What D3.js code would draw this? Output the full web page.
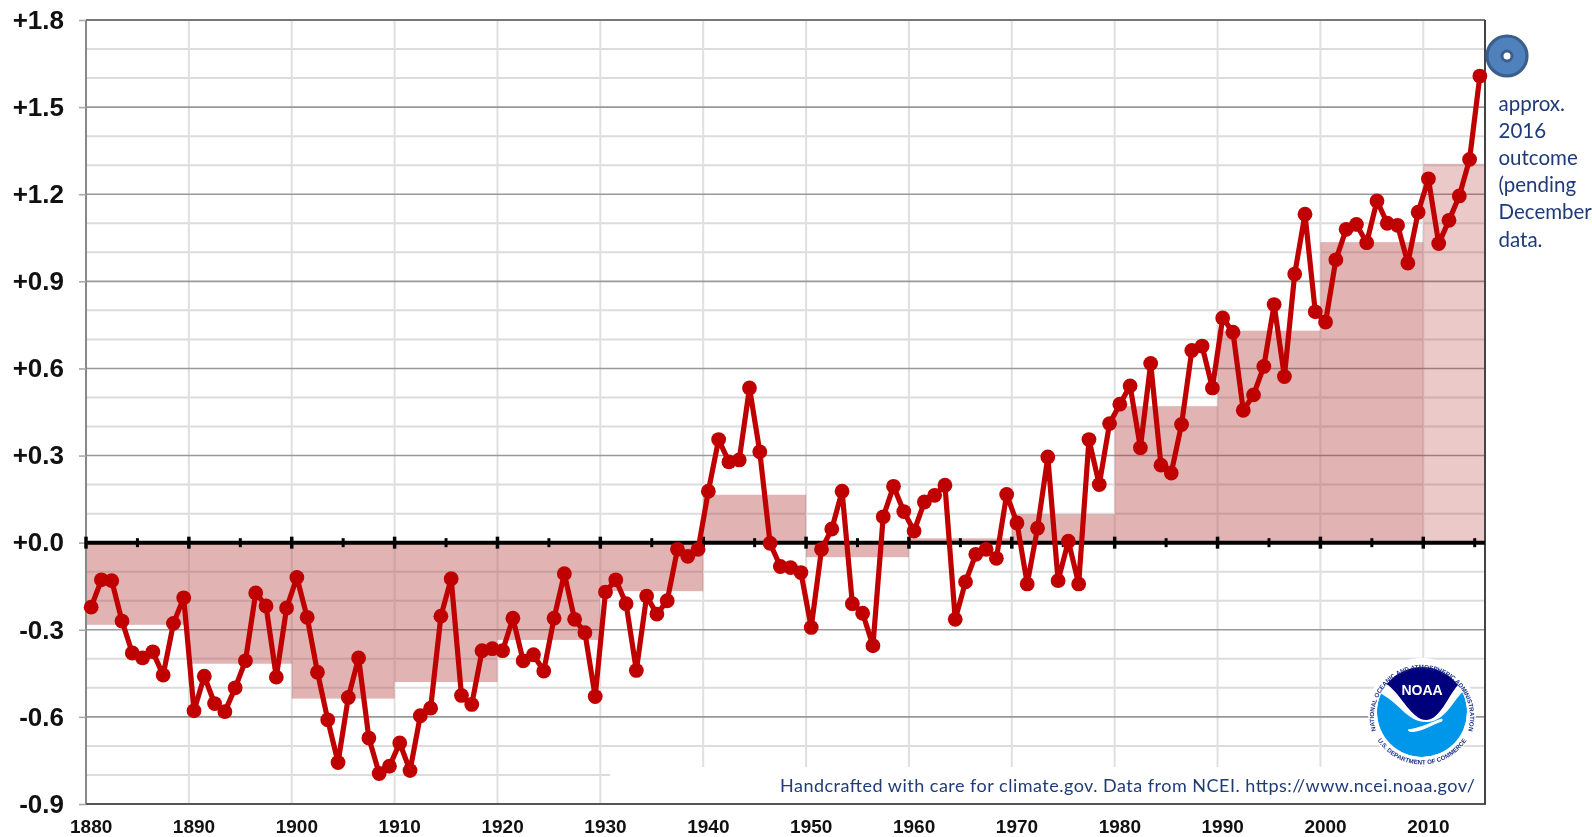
<!DOCTYPE html>
<html>
<head>
<meta charset="utf-8">
<script src="https://cdn.jsdelivr.net/npm/d3@7"></script>
<style>
  html, body { margin: 0; padding: 0; background: #fff; overflow: hidden; }
  svg { display: block; filter: blur(0.4px); }
  .ylab text { font: bold 26px "Liberation Sans", Arial, sans-serif; fill: #111; }
  .xlab text { font: bold 19px "Liberation Sans", Arial, sans-serif; fill: #111; }
  .note { font-family: Lato, sans-serif; fill: #1f3b77; }
</style>
</head>
<body>
<script>
var w = 1592;
var h = 837;

// yearly anomaly, 1880 onward (last point is the approx. 2016 outcome)
var firstYear = 1880;
var anomalies = [
  -0.222, -0.128, -0.131, -0.27, -0.38, -0.397, -0.376, -0.456, -0.278, -0.19,
  -0.579, -0.46, -0.554, -0.582, -0.50, -0.407, -0.173, -0.218, -0.463, -0.225,
  -0.12, -0.257, -0.446, -0.61, -0.757, -0.533, -0.397, -0.673, -0.795, -0.77,
  -0.69, -0.785, -0.596, -0.57, -0.253, -0.124, -0.526, -0.557, -0.372, -0.365,
  -0.372, -0.26, -0.407, -0.386, -0.442, -0.26, -0.107, -0.264, -0.31, -0.53,
  -0.17, -0.128, -0.21, -0.44, -0.184, -0.246, -0.20, -0.023, -0.047, -0.023,
   0.177, 0.355, 0.278, 0.285, 0.533, 0.313, -0.002, -0.082, -0.086, -0.103,
  -0.292, -0.023, 0.047, 0.177, -0.21, -0.243, -0.355, 0.089, 0.194, 0.107,
   0.04, 0.14, 0.163, 0.198, -0.264, -0.135, -0.04, -0.023, -0.054, 0.166,
   0.068, -0.142, 0.05, 0.295, -0.131, 0.005, -0.142, 0.355, 0.20, 0.41,
   0.477, 0.54, 0.327, 0.617, 0.267, 0.24, 0.407, 0.662, 0.677, 0.533,
   0.774, 0.725, 0.456, 0.509, 0.607, 0.82, 0.572, 0.925, 1.131, 0.795,
   0.76, 0.974, 1.079, 1.096, 1.033, 1.177, 1.10, 1.093, 0.963, 1.138,
   1.253, 1.03, 1.11, 1.194, 1.32, 1.607
];

var decades = [1880, 1890, 1900, 1910, 1920, 1930, 1940, 1950, 1960, 1970, 1980, 1990, 2000, 2010];
var decadeMeans = [-0.283, -0.417, -0.537, -0.48, -0.335, -0.167, 0.165, -0.05, 0.015, 0.098, 0.47, 0.73, 1.035, 1.305];

var yTicks = [-0.9, -0.6, -0.3, 0, 0.3, 0.6, 0.9, 1.2, 1.5, 1.8];
var yMinor = [-0.8, -0.7, -0.5, -0.4, -0.2, -0.1, 0.1, 0.2, 0.4, 0.5, 0.7, 0.8, 1.0, 1.1, 1.3, 1.4, 1.6, 1.7];
var zeroTicks = d3.range(1880, 2016, 5);
var noteLines = ["approx.", "2016", "outcome", "(pending", "December", "data."];
var credit = "Handcrafted with care for climate.gov. Data from NCEI. https://www.ncei.noaa.gov/";

var left = 86, right = 1485, top_ = 20, bottom = 804;
var years = anomalies.map(function(d, i) { return firstYear + i; });

var xBand = d3.scaleBand().domain(years).range([left, right]);
var xEdge = d3.scaleLinear().domain([firstYear, firstYear + years.length]).range([left, right]);
var yScale = d3.scaleLinear().domain([-0.9, 1.8]).range([bottom, top_]);
var xMid = function(yr) { return xBand(yr) + xBand.bandwidth() / 2; };

var svg = d3.select("body").append("svg").attr("width", w).attr("height", h);

// gridlines
svg.append("g").selectAll("line").data(yMinor).enter().append("line")
  .attr("x1", left).attr("x2", right)
  .attr("y1", function(d) { return yScale(d); }).attr("y2", function(d) { return yScale(d); })
  .attr("stroke", "#dcdcdc").attr("stroke-width", 2);

svg.append("g").selectAll("line").data(decades.slice(1)).enter().append("line")
  .attr("x1", function(d) { return xEdge(d); }).attr("x2", function(d) { return xEdge(d); })
  .attr("y1", top_).attr("y2", bottom)
  .attr("stroke", "#e0e0e0").attr("stroke-width", 2);

svg.append("g").selectAll("line").data(yTicks).enter().append("line")
  .attr("x1", left).attr("x2", right)
  .attr("y1", function(d) { return yScale(d); }).attr("y2", function(d) { return yScale(d); })
  .attr("stroke", "#999").attr("stroke-width", 1.6);

// decade means
svg.append("g").selectAll("rect").data(decadeMeans).enter().append("rect")
  .attr("x", function(d, i) { return xEdge(decades[i]); })
  .attr("width", function(d, i) { return Math.min(xEdge(decades[i] + 10), right) - xEdge(decades[i]); })
  .attr("y", function(d) { return Math.min(yScale(d), yScale(0)); })
  .attr("height", function(d) { return Math.abs(yScale(d) - yScale(0)); })
  .attr("fill", "#b03030")
  .attr("fill-opacity", function(d, i) { return i == decades.length - 1 ? 0.26 : 0.37; });

// white box behind the credit line
svg.append("rect").attr("x", 610).attr("y", 767).attr("width", right - 610).attr("height", bottom - 767).attr("fill", "#fff");

// frame
svg.append("line").attr("x1", left).attr("x2", left).attr("y1", top_).attr("y2", bottom).attr("stroke", "#888").attr("stroke-width", 2);
svg.append("line").attr("x1", left).attr("x2", right).attr("y1", top_).attr("y2", top_).attr("stroke", "#666").attr("stroke-width", 1.6);
svg.append("line").attr("x1", left).attr("x2", right + 1).attr("y1", bottom).attr("y2", bottom).attr("stroke", "#555").attr("stroke-width", 2);
svg.append("line").attr("x1", right).attr("x2", right).attr("y1", top_).attr("y2", bottom).attr("stroke", "#444").attr("stroke-width", 2);

// axes
var yAxis = d3.axisLeft(yScale).tickValues(yTicks).tickSize(7).tickPadding(15)
  .tickFormat(function(d) { return (d >= 0 ? "+" : "-") + Math.abs(d).toFixed(1); });
var gy = svg.append("g").attr("class", "ylab").attr("transform", "translate(" + left + ",0)").call(yAxis);
gy.select(".domain").remove();
gy.selectAll("line").attr("stroke", "#aaa").attr("stroke-width", 1.6);

var xAxis = d3.axisBottom(xBand).tickValues(decades).tickSize(0).tickPadding(0);
var gx = svg.append("g").attr("class", "xlab").attr("transform", "translate(0," + (bottom + 15) + ")").call(xAxis);
gx.select(".domain").remove();

// zero line and its ticks
svg.append("line").attr("x1", left).attr("x2", right).attr("y1", yScale(0)).attr("y2", yScale(0))
  .attr("stroke", "#000").attr("stroke-width", 4);
svg.append("g").selectAll("line").data(zeroTicks).enter().append("line")
  .attr("x1", function(d) { return xEdge(d); }).attr("x2", function(d) { return xEdge(d); })
  .attr("y1", function(d) { return yScale(0) - (d % 10 == 0 ? 6 : 4.5); })
  .attr("y2", function(d) { return yScale(0) + (d % 10 == 0 ? 6 : 4.5); })
  .attr("stroke", "#000").attr("stroke-width", function(d) { return d % 10 == 0 ? 3.5 : 3; });

// series
var line = d3.line().x(function(d, i) { return xMid(years[i]); }).y(function(d) { return yScale(d); });
svg.append("path").datum(anomalies).attr("d", line).attr("fill", "none")
  .attr("stroke", "#c00000").attr("stroke-width", 5.2).attr("stroke-linejoin", "round");
svg.append("g").selectAll("circle").data(anomalies).enter().append("circle")
  .attr("cx", function(d, i) { return xMid(years[i]); })
  .attr("cy", function(d) { return yScale(d); })
  .attr("r", 7.4).attr("fill", "#c00000");

// marker for the 2016 outcome
var mark = svg.append("g").attr("transform", "translate(1507,56)");
mark.append("circle").attr("r", 20).attr("fill", "#4f81bd").attr("stroke", "#3a5f8c").attr("stroke-width", 3.2);
mark.append("circle").attr("r", 5).attr("fill", "#fff").attr("stroke", "#3a5f8c").attr("stroke-width", 3);

// note
svg.append("g").selectAll("text").data(noteLines).enter().append("text")
  .attr("class", "note")
  .attr("x", 1498.5)
  .attr("y", function(d, i) { return 111 + i * 27.1; })
  .style("font-size", "20.5px")
  .text(function(d) { return d; });

svg.append("text").attr("class", "note")
  .attr("x", 1475).attr("y", 792).attr("text-anchor", "end")
  .style("font-size", "18px")
  .attr("textLength", 695)
  .text(credit);

// NOAA seal
var seal = svg.append("g").attr("transform", "translate(1422,712)");
var defs = svg.append("defs");
defs.append("clipPath").attr("id", "sealClip").append("circle").attr("r", 45);
defs.append("path").attr("id", "ringTop").attr("d", "M-41,30 A48,48 0 1,1 41,30");
defs.append("path").attr("id", "ringBot").attr("d", "M-47,24 A53,53 0 0,0 47,24");
seal.append("circle").attr("r", 54).attr("fill", "#fff");
var inner = seal.append("g").attr("clip-path", "url(#sealClip)");
inner.append("circle").attr("r", 45).attr("fill", "#0097ea");
inner.append("path").attr("d", "M-50,-50 L50,-50 L50,-26 C34,-22 28,8 6,10 C-16,12 -24,-14 -50,-22 Z").attr("fill", "#fff");
inner.append("path").attr("d", "M-50,-50 L50,-50 L50,-34 L36,-27 C26,-16 18,8 4,8 C-10,8 -20,-16 -34,-27 L-50,-32 Z").attr("fill", "#00007c");
inner.append("path").attr("d", "M-14,18 C0,16 10,10 20,7 L20,9 C10,12 0,20 -12,19.5 Z").attr("fill", "#fff").attr("stroke", "#fff");
seal.append("text").attr("y", -17).attr("text-anchor", "middle")
  .style("font", "bold 14px 'Liberation Sans', Arial, sans-serif").attr("fill", "#fff").text("NOAA");
seal.append("text").style("font", "bold 6.2px 'Liberation Sans', Arial, sans-serif").attr("fill", "#1a2f88")
  .append("textPath").attr("href", "#ringTop").attr("startOffset", "50%").attr("text-anchor", "middle")
  .text("NATIONAL OCEANIC AND ATMOSPHERIC ADMINISTRATION");
seal.append("text").style("font", "bold 6.2px 'Liberation Sans', Arial, sans-serif").attr("fill", "#1a2f88")
  .append("textPath").attr("href", "#ringBot").attr("startOffset", "50%").attr("text-anchor", "middle")
  .text("U.S. DEPARTMENT OF COMMERCE");
</script>
</body>
</html>
